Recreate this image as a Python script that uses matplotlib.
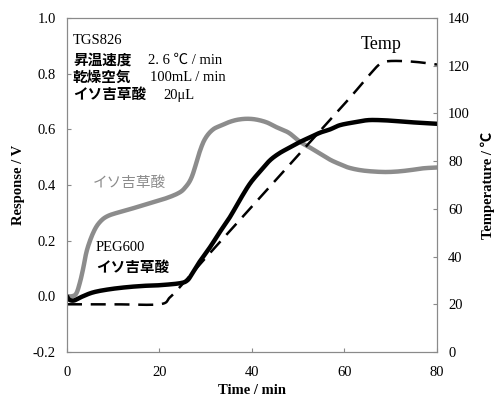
import matplotlib
matplotlib.use('Agg')
import numpy as np
import matplotlib.pyplot as plt

plt.rcParams['font.family'] = ['Liberation Serif', 'Noto Sans CJK JP', 'DejaVu Sans']

# isovaleric acid (gray)
t_gray = [0, 1, 2, 2.8, 3.5, 4.3, 5.6, 7, 9, 13, 17, 21, 24, 25.5, 27, 28.8, 30, 31.6, 33.5,
          35.2, 37, 39, 41, 43.2, 45, 46.7, 48.2, 50.4, 52.5, 55, 57, 59, 61, 64, 68, 71, 74, 77, 80]
v_gray = [0.0, 0.0, 0.01, 0.05, 0.10, 0.165, 0.226, 0.265, 0.29, 0.31, 0.33, 0.35, 0.37, 0.39, 0.43,
          0.525, 0.57, 0.60, 0.615, 0.627, 0.635, 0.638, 0.635, 0.625, 0.61, 0.598, 0.585, 0.555,
          0.535, 0.51, 0.49, 0.475, 0.462, 0.452, 0.447, 0.448, 0.453, 0.46, 0.463]

# PEG600 + isovaleric acid (black)
t_black = [0, 0.5, 1.5, 3, 5.6, 9, 13, 17, 20, 24.4, 26, 27, 28.5, 30.9, 33, 35.2, 37.5, 39.6,
           41.8, 43.9, 46, 48.2, 50.4, 52.5, 54.7, 56.9, 59, 62, 65, 68, 71, 74, 77, 80]
v_black = [0.0, -0.012, -0.015, -0.003, 0.014, 0.025, 0.033, 0.038, 0.04, 0.047, 0.057, 0.08,
           0.12, 0.176, 0.23, 0.284, 0.35, 0.406, 0.45, 0.489, 0.515, 0.535, 0.555, 0.571, 0.588,
           0.60, 0.615, 0.625, 0.633, 0.633, 0.63, 0.626, 0.623, 0.62]

# temperature (dashed)
t_temp = [0, 10, 20, 22.3, 25, 30, 40, 50, 60, 64, 66, 67.5, 69, 72, 76, 80]
temp = [20, 20, 20, 23, 28.5, 39.5, 61, 82.5, 104, 113, 117.5, 120.5, 121.8, 122, 121.5, 120.5]


def smooth(x, y, n=12):
    # Catmull-Rom through the points, just to round the corners
    x = np.asarray(x, float)
    y = np.asarray(y, float)
    px = np.concatenate([[x[0]], x, [x[-1]]])
    py = np.concatenate([[y[0]], y, [y[-1]]])
    xs, ys = [], []
    s = np.linspace(0, 1, n, endpoint=False)
    for i in range(1, len(px) - 2):
        for p, out in ((px, xs), (py, ys)):
            p0, p1, p2, p3 = p[i - 1], p[i], p[i + 1], p[i + 2]
            out.extend(0.5 * (2 * p1 + (-p0 + p2) * s + (2 * p0 - 5 * p1 + 4 * p2 - p3) * s ** 2
                              + (-p0 + 3 * p1 - 3 * p2 + p3) * s ** 3))
    xs.append(x[-1])
    ys.append(y[-1])
    return xs, ys


fig = plt.figure(figsize=(4.94, 4.01), dpi=100)
ax = fig.add_axes([0.1356, 0.1222, 0.749, 0.8328])
ax2 = ax.twinx()

ax.plot(*smooth(t_gray, v_gray), color='#8c8c8c', lw=3.2, solid_capstyle='round', zorder=3)
ax.plot(*smooth(t_black, v_black), color='black', lw=3.2, solid_capstyle='round', zorder=4)
ax2.plot(*smooth(t_temp, temp), color='black', lw=1.8, dashes=(6, 3.5))

ax.set_xlim(0, 80)
ax.set_ylim(-0.2, 1.0)
ax2.set_ylim(0, 140)
ax.set_xticks([0, 20, 40, 60, 80])
ax.set_yticks([-0.2, 0.0, 0.2, 0.4, 0.6, 0.8, 1.0])
ax.set_yticklabels(['-0.2', '0.0', '0.2', '0.4', '0.6', '0.8', '1.0'])
ax2.set_yticks([0, 20, 40, 60, 80, 100, 120, 140])

for a in (ax, ax2):
    for s in a.spines.values():
        s.set_color('#8a8a8a')
    a.tick_params(direction='in', length=3, color='#8a8a8a', labelsize=10.5, pad=8)
ax.tick_params(axis='x', pad=10)

ax.set_xlabel('Time / min', fontsize=10.5, fontweight='bold', labelpad=4)
ax.set_ylabel('Response / V', fontsize=10.5, fontweight='bold', labelpad=6)
ax2.set_ylabel('Temperature / ℃', fontsize=10.5, fontweight='bold', labelpad=8)

fs = 10.5
ax.text(1.3, 0.92, 'TGS826', fontsize=fs, va='center')
ax.text(1.3, 0.848, '昇温速度', fontsize=fs, va='center', fontweight='bold')
ax.text(17.5, 0.848, '2. 6 ℃ / min', fontsize=fs, va='center')
ax.text(1.3, 0.786, '乾燥空気', fontsize=fs, va='center', fontweight='bold')
ax.text(17.9, 0.786, '100mL / min', fontsize=fs, va='center')
ax.text(1.3, 0.722, 'イソ吉草酸', fontsize=fs, va='center', fontweight='bold')
ax.text(20.8, 0.722, '20μL', fontsize=fs, va='center')

ax.text(5.5, 0.408, 'イソ吉草酸', fontsize=fs, va='center', color='#8c8c8c')
ax.text(6.2, 0.176, 'PEG600', fontsize=fs, va='center')
ax.text(6.2, 0.100, 'イソ吉草酸', fontsize=fs, va='center', fontweight='bold')
ax.text(63.5, 0.905, 'Temp', fontsize=13, va='center')

fig.savefig('out.png', dpi=100)
